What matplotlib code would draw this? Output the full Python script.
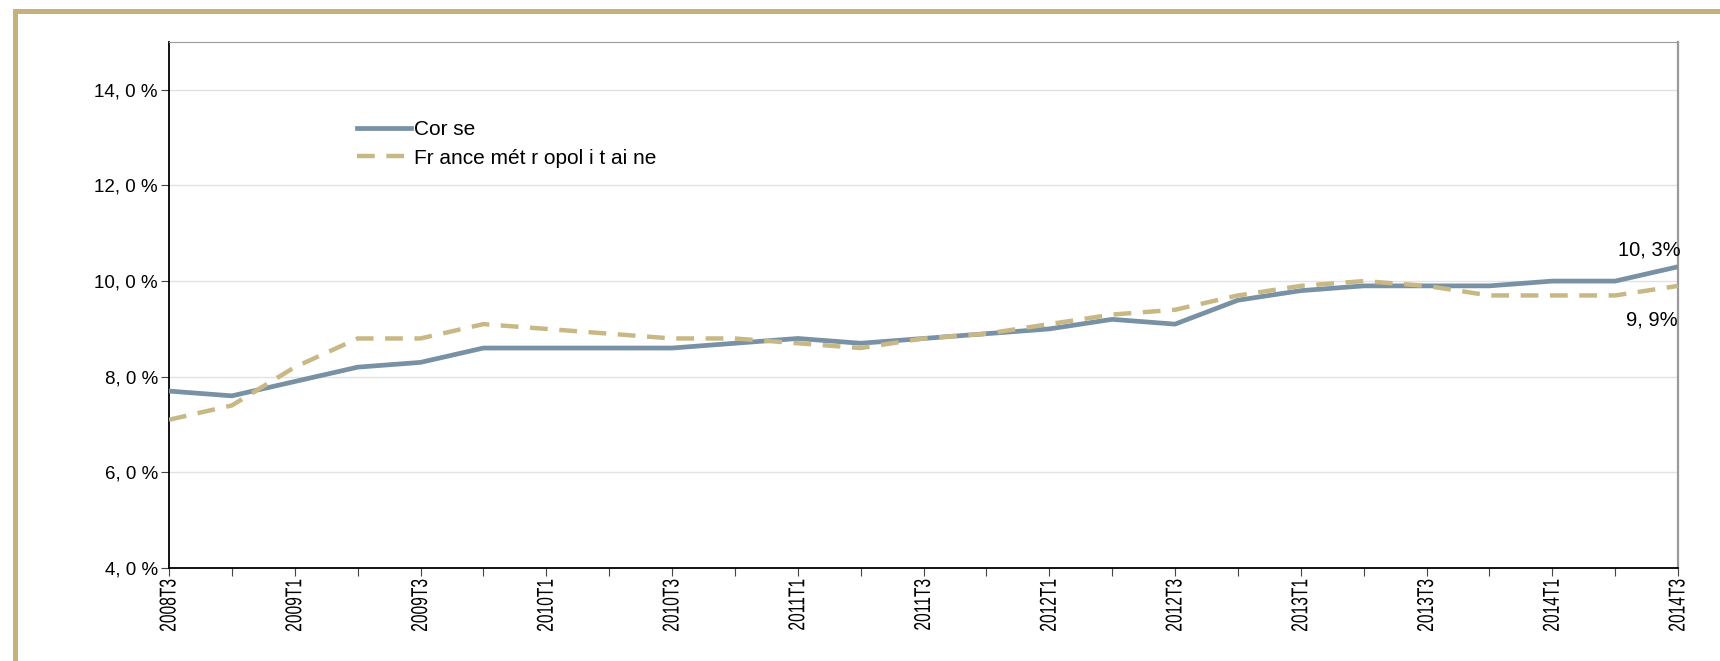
import matplotlib
matplotlib.use("Agg")
import matplotlib.pyplot as plt
from matplotlib.lines import Line2D
from matplotlib.patheffects import AbstractPathEffect
from matplotlib.transforms import Affine2D
import numpy as np

# trimestres 2008T3 .. 2014T3
quarters = ["2008T3", "2008T4", "2009T1", "2009T2", "2009T3", "2009T4",
            "2010T1", "2010T2", "2010T3", "2010T4", "2011T1", "2011T2",
            "2011T3", "2011T4", "2012T1", "2012T2", "2012T3", "2012T4",
            "2013T1", "2013T2", "2013T3", "2013T4", "2014T1", "2014T2",
            "2014T3"]

corse = [7.7, 7.6, 7.9, 8.2, 8.3, 8.6, 8.6, 8.6, 8.6, 8.7, 8.8, 8.7,
         8.8, 8.9, 9.0, 9.2, 9.1, 9.6, 9.8, 9.9, 9.9, 9.9, 10.0, 10.0,
         10.3]
france = [7.1, 7.4, 8.2, 8.8, 8.8, 9.1, 9.0, 8.9, 8.8, 8.8, 8.7, 8.6,
          8.8, 8.9, 9.1, 9.3, 9.4, 9.7, 9.9, 10.0, 9.9, 9.7, 9.7, 9.7,
          9.9]

y_ticks = [4, 6, 8, 10, 12, 14]
y_labels = ["4, 0 %", "6, 0 %", "8, 0 %", "10, 0 %", "12, 0 %", "14, 0 %"]

C_CORSE = "#7891a4"
C_FRANCE = "#c8b886"
C_FRAME = "#c4b17c"


class Squash(AbstractPathEffect):
    # ecrase le texte autour de son point d'ancrage (police etroite)
    def __init__(self, txt, sx=1.0, sy=1.0):
        super().__init__()
        self.txt, self.sx, self.sy = txt, sx, sy

    def draw_path(self, renderer, gc, tpath, affine, rgbFace=None):
        px, py = self.txt.get_transform().transform(self.txt.get_position())
        aff = affine + Affine2D().translate(-px, -py).scale(self.sx, self.sy).translate(px, py)
        renderer.draw_path(gc, tpath, aff, rgbFace)


W, H = 1720, 661
fig = plt.figure(figsize=(W / 100, H / 100), dpi=100)

# cadre dore (haut et gauche)
fig.add_artist(Line2D([13 / W, 1], [1 - 10.8 / H, 1 - 10.8 / H], color=C_FRAME,
                      lw=3.6, solid_capstyle="butt", transform=fig.transFigure))
fig.add_artist(Line2D([15 / W, 15 / W], [0, 1 - 8.5 / H], color=C_FRAME,
                      lw=3.6, solid_capstyle="butt", transform=fig.transFigure))

ax = fig.add_axes([169 / W, 1 - 568 / H, (1678 - 169) / W, (568 - 42) / H])

x = np.arange(len(quarters))
ax.plot(x, corse, color=C_CORSE, lw=3.4, label="Cor se", zorder=3)
ax.plot(x, france, color=C_FRANCE, lw=3.2, ls=(0, (4, 2.6)),
        label="Fr ance mét r opol i t ai ne", zorder=3)

ax.set_xlim(0, len(quarters) - 1)
ax.set_ylim(4, 15)

ax.set_yticks(y_ticks)
ax.set_yticklabels(y_labels, fontsize=13.5, family="Liberation Sans")
ax.set_xticks(x)
ax.set_xticklabels([q if i % 2 == 0 else "" for i, q in enumerate(quarters)],
                   rotation=90, fontsize=16.5, family="Liberation Sans")
ax.tick_params(axis="both", length=6, width=0.8, color="#444444", pad=2)
for lbl in ax.get_xticklabels():
    lbl.set_path_effects([Squash(lbl, 1.0, 0.68)])
ax.yaxis.grid(True, color="#e2e2e2", lw=1)
ax.set_axisbelow(True)

for s in ["left", "bottom"]:
    ax.spines[s].set_color("black")
    ax.spines[s].set_linewidth(1.3)
ax.spines["top"].set_color("#9a9a9a")
ax.spines["right"].set_color("#9a9a9a")
ax.spines["right"].set_linewidth(1.6)

ax.legend(loc="upper left", bbox_to_anchor=(0.112, 0.887), frameon=False,
          handlelength=2.6, handletextpad=0.15, labelspacing=0.45,
          prop={"family": "Liberation Sans", "size": 15})

# etiquettes de fin
ax.annotate("10, 3%", (x[-1], corse[-1]), xytext=(2, 5), textcoords="offset points",
            ha="right", va="bottom", fontsize=14.5, family="Liberation Sans")
ax.annotate("9, 9%", (x[-1], france[-1]), xytext=(0, -18), textcoords="offset points",
            ha="right", va="top", fontsize=14.5, family="Liberation Sans")

fig.savefig("out.png", dpi=100)
